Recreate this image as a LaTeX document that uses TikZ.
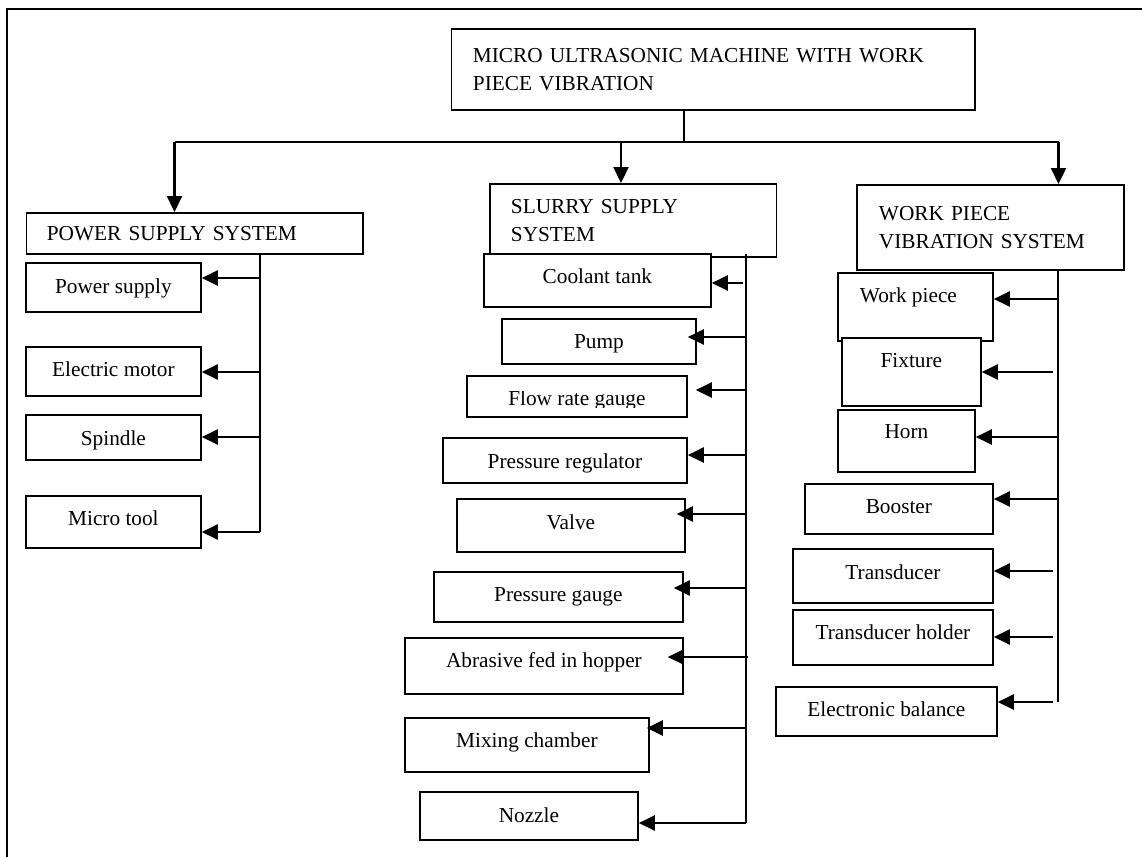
\documentclass[tikz,border=0pt]{standalone}
\usepackage{fontspec}
\setmainfont{Liberation Serif}
\usepackage{trimclip}
\usepackage{tikz}
\usetikzlibrary{arrows.meta,positioning}

\begin{document}
\begin{tikzpicture}[x=1pt, y=-1pt,
      head/.style={
        draw, fill=white, line width=1.8pt, anchor=north west,
        inner ysep=0pt, align=left,
        font=\fontsize{21.3}{27.5}\selectfont
      },
      part/.style={
        draw, fill=white, line width=1.8pt, anchor=north west,
        inner sep=0pt, align=center,
        font=\fontsize{21.3}{27.5}\selectfont
      },
      feed/.style={-{Triangle[length=16pt,width=15pt]}, line width=2.3pt},
      trunk/.style={line width=1.5pt}
    ]
      \useasboundingbox (0,0) rectangle (1142,857);
      \draw[line width=2.6pt] (7,857) -- (7,9) -- (1142,9);

      % headings
      \node[head, minimum width=523.5pt, minimum height=81pt, inner xsep=21.5pt, text width=480.5pt] (mum) at (450.5,28)
        {MICRO ULTRASONIC MACHINE WITH WORK\\PIECE VIBRATION};
      \node[head, minimum width=336.5pt, minimum height=41pt, inner xsep=20.5pt, text width=295.5pt] (pss) at (25.5,212)
        {POWER SUPPLY SYSTEM};
      \node[head, minimum width=286.5pt, minimum height=73pt, inner xsep=21pt, text width=244.5pt] (sss) at (489,183)
        {SLURRY SUPPLY\\SYSTEM};
      \node[head, minimum width=267pt, minimum height=85pt, inner xsep=22pt, text width=223pt] (wps) at (856,184)
        {WORK PIECE\\VIBRATION SYSTEM};

      % split to the three systems
      \coordinate (split) at (684,142);
      \coordinate (bl) at (174.5,142);
      \coordinate (bm) at (621,142);
      \coordinate (br) at (1058.5,142);
      \draw[line width=1.1pt] (split |- mum.south) -- (split);
      \draw[line width=2.2pt] (bl) -- (br);
      \draw[feed] (bl) -- (bl |- pss.north);
      \draw[feed] (bm) -- (bm |- sss.north);
      \draw[feed] (br) -- (br |- wps.north);

      % power supply system
      \node[part, minimum width=175pt, text height=31pt, text depth=18pt] (psu) at (25,262) {Power supply};
      \node[part, minimum width=175pt, text height=30pt, text depth=19pt] (emot) at (25,346) {Electric motor};
      \node[part, minimum width=175pt, text height=31pt, text depth=14pt] (spin) at (25,414) {Spindle};
      \node[part, minimum width=175pt, text height=30pt, text depth=22pt] (mtool) at (25,495) {Micro tool};

      \coordinate (p1) at (260,278);
      \coordinate (p2) at (260,372);
      \coordinate (p3) at (260,437);
      \coordinate (pt) at (260,532);
      \draw[trunk] (pt |- pss.south) -- (pt);
      \draw[feed] (p1) -- (p1 -| psu.east);
      \draw[feed] (p2) -- (p2 -| emot.east);
      \draw[feed] (p3) -- (p3 -| spin.east);
      \draw[feed] (pt) -- (pt -| mtool.east);

      % slurry supply system
      \node[part, minimum width=227pt, text height=30pt, text depth=23pt] (cool) at (483,253) {Coolant tank};
      \node[part, minimum width=194pt, text height=30pt, text depth=15pt] (pump) at (501,318) {Pump};
      \node[part, minimum width=220pt, text height=30pt, text depth=11pt] (flow) at (466,375) {\clipbox{0pt 3.5pt 0pt 0pt}{Flow rate gauge}};
      \node[part, minimum width=244pt, text height=31pt, text depth=14pt] (preg) at (442,437) {Pressure regulator};
      \node[part, minimum width=228pt, text height=31pt, text depth=22pt] (valve) at (456,498) {Valve};
      \node[part, minimum width=249pt, text height=30pt, text depth=20pt] (pgau) at (433,571) {Pressure gauge};
      \node[part, minimum width=278pt, text height=30pt, text depth=26pt] (abr) at (404,637) {Abrasive fed in hopper};
      \node[part, minimum width=244pt, text height=30pt, text depth=24pt] (mix) at (404,717) {Mixing chamber};
      \node[part, minimum width=218pt, text height=31pt, text depth=17pt] (noz) at (419,791) {Nozzle};

      \coordinate (s1) at (743,283);
      \coordinate (s2) at (746,337);
      \coordinate (s3) at (746,390);
      \coordinate (s4) at (746,455);
      \coordinate (s5) at (746,514);
      \coordinate (s6) at (746,588);
      \coordinate (s7) at (748,657);
      \coordinate (s8) at (746,728);
      \coordinate (st) at (746,823);
      \draw[trunk] ([yshift=4pt]st |- sss.south) -- (st);
      \draw[feed] (s1) -- (s1 -| cool.east);
      \draw[feed, shorten >=-9pt] (s2) -- (s2 -| pump.east);
      \draw[feed, shorten >=8pt] (s3) -- (s3 -| flow.east);
      \draw[feed] (s4) -- (s4 -| preg.east);
      \draw[feed, shorten >=-9pt] (s5) -- (s5 -| valve.east);
      \draw[feed, shorten >=-10pt] (s6) -- (s6 -| pgau.east);
      \draw[feed, shorten >=-16pt] (s7) -- (s7 -| abr.east);
      \draw[feed, shorten >=-3pt] (s8) -- (s8 -| mix.east);
      \draw[feed] (st) -- (st -| noz.east);

      % work piece vibration system
      \node[part, minimum width=155pt, text height=30pt, text depth=38pt, xshift=0pt] (wpc) at (837,272) {Work piece\hspace*{14pt}};
      \node[part, minimum width=139pt, text height=30pt, text depth=38pt] (fix) at (841,337) {Fixture};
      \node[part, minimum width=137pt, text height=29pt, text depth=33pt] (horn) at (837,409) {Horn};
      \node[part, minimum width=188pt, text height=30pt, text depth=20pt] (boost) at (804,483) {Booster};
      \node[part, minimum width=200pt, text height=31pt, text depth=23pt] (trd) at (792,548) {Transducer};
      \node[part, minimum width=200pt, text height=30pt, text depth=25pt] (trh) at (792,609) {Transducer holder};
      \node[part, minimum width=221pt, text height=30pt, text depth=19pt] (ebal) at (775,686) {Electronic balance};

      \coordinate (w1) at (1058,299);
      \coordinate (w2) at (1053,372);
      \coordinate (w3) at (1058,437);
      \coordinate (w4) at (1058,499);
      \coordinate (w5) at (1053,571);
      \coordinate (w6) at (1053,637);
      \coordinate (w7) at (1053,702);
      \coordinate (wt) at (1058,702);
      \draw[trunk] (wt |- wps.south) -- (wt);
      \draw[feed] (w1) -- (w1 -| wpc.east);
      \draw[feed] (w2) -- (w2 -| fix.east);
      \draw[feed] (w3) -- (w3 -| horn.east);
      \draw[feed] (w4) -- (w4 -| boost.east);
      \draw[feed] (w5) -- (w5 -| trd.east);
      \draw[feed] (w6) -- (w6 -| trh.east);
      \draw[feed] (w7) -- (w7 -| ebal.east);
    \end{tikzpicture}
\end{document}
